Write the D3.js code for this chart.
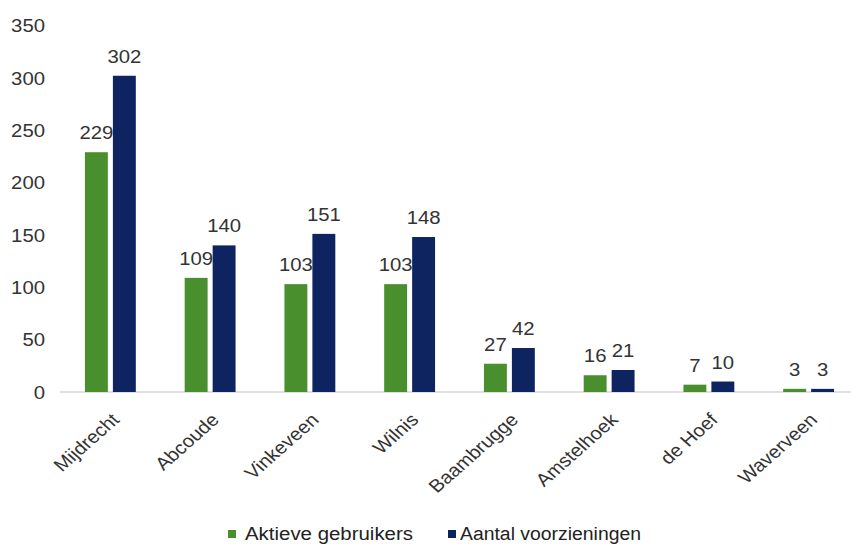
<!DOCTYPE html>
<html>
<head>
<meta charset="utf-8">
<script src="https://cdn.jsdelivr.net/npm/d3@7"></script>
<style>
  html, body { margin: 0; padding: 0; background: #fff; }
  svg { display: block; font-family: "Liberation Sans", Arial, sans-serif; }
</style>
</head>
<body>
<svg id="chart" width="851" height="544"></svg>
<script>
// Kernen in de gemeente
const categories = ["Mijdrecht", "Abcoude", "Vinkeveen", "Wilnis", "Baambrugge", "Amstelhoek", "de Hoef", "Waverveen"];
const seriesNames = ["Aktieve gebruikers", "Aantal voorzieningen"];
const aktieveGebruikers = [229, 109, 103, 103, 27, 16, 7, 3];
const aantalVoorzieningen = [302, 140, 151, 148, 42, 21, 10, 3];
const yTicks = [0, 50, 100, 150, 200, 250, 300, 350];

const colors = ["#4a8f2e", "#0e2461"];
const seriesValues = [aktieveGebruikers, aantalVoorzieningen];
const wide = 1.13; // lettertype iets breder weergeven

const svg = d3.select("#chart");

const x0 = d3.scaleBand()
  .domain(categories)
  .range([60, 859])
  .paddingInner(0.49)
  .paddingOuter(0.25);

const x1 = d3.scaleBand()
  .domain(seriesNames)
  .range([0, x0.bandwidth()])
  .paddingInner(0.18);

const y = d3.scaleLinear()
  .domain([0, 350])
  .range([392, 25.5]);

// y-as labels
const yAxis = d3.axisLeft(y).tickValues(yTicks).tickSize(0).tickPadding(0);
const yg = svg.append("g").attr("transform", "translate(45,0)").call(yAxis);
yg.select(".domain").remove();
yg.selectAll("text")
  .attr("font-family", "Liberation Sans, Arial, sans-serif")
  .attr("font-size", 18)
  .attr("fill", "#333")
  .attr("x", 0)
  .attr("dy", "0.35em")
  .attr("transform", `scale(${wide},1)`);

// basislijn
svg.append("line")
  .attr("x1", 60).attr("x2", 851)
  .attr("y1", y(0)).attr("y2", y(0))
  .attr("stroke", "#d6d6d6")
  .attr("stroke-width", 1.5);

// staven per kern
const groups = svg.append("g").selectAll("g")
  .data(categories)
  .join("g")
  .attr("transform", d => `translate(${x0(d)},0)`);

const cells = groups.selectAll("g")
  .data((d, i) => seriesNames.map((s, j) => ({ s, j, v: seriesValues[j][i] })))
  .join("g");

cells.append("rect")
  .attr("x", d => x1(d.s))
  .attr("width", x1.bandwidth())
  .attr("y", d => y(d.v))
  .attr("height", d => y(0) - y(d.v))
  .attr("fill", d => colors[d.j]);

cells.append("text")
  .attr("transform", d => `translate(${x1(d.s) + x1.bandwidth() / 2},${y(d.v) - 13}) scale(${wide},1)`)
  .attr("text-anchor", "middle")
  .attr("font-size", 18)
  .attr("fill", "#333")
  .text(d => d.v);

// categorie labels
svg.append("g").selectAll("text")
  .data(categories)
  .join("text")
  .attr("transform", d => `translate(${x0(d) + x0.bandwidth() / 2 + 10},421) scale(${wide},1) rotate(-45)`)
  .attr("text-anchor", "end")
  .attr("font-size", 18)
  .attr("fill", "#333")
  .text(d => d);

// legenda
const legend = svg.append("g").attr("transform", "translate(0,540)");
const legendX = [228, 448];
const legendTextX = [17, 12];
const legendTextLen = [168, 181];
const items = legend.selectAll("g")
  .data(seriesNames)
  .join("g")
  .attr("transform", (d, i) => `translate(${legendX[i]},0)`);
items.append("rect")
  .attr("x", 0).attr("y", -10)
  .attr("width", 8).attr("height", 8)
  .attr("fill", (d, i) => colors[i]);
items.append("text")
  .attr("x", (d, i) => legendTextX[i])
  .attr("textLength", (d, i) => legendTextLen[i])
  .attr("lengthAdjust", "spacingAndGlyphs")
  .attr("font-size", 18)
  .attr("fill", "#222")
  .text(d => d);
</script>
</body>
</html>
